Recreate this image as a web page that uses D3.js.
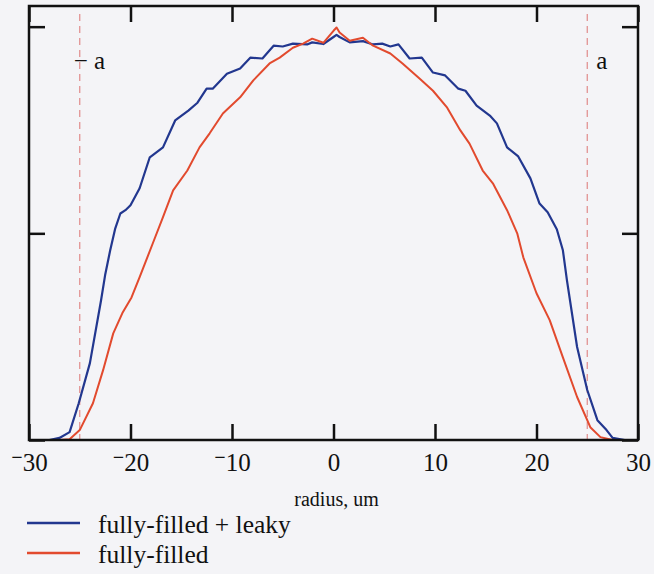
<!DOCTYPE html>
<html><head><meta charset="utf-8">
<script src="https://cdn.jsdelivr.net/npm/d3@7"></script>
<style>
html,body{margin:0;padding:0;background:#f4f4f7;}
svg{display:block;font-family:"Liberation Serif","DejaVu Serif",serif;}
</style></head><body>
<svg id="chart" width="654" height="574"></svg>
<script>
// ---- data ----
const xTicks = [-30, -20, -10, 0, 10, 20, 30];
const yTicks = [0, 0.5, 1.0];
const apertureMarks = [-25, 25];
const apertureLabels = ["\u2212 a", "a"];
const seriesNames = ["fully-filled + leaky", "fully-filled"];

const blueR = [-30,-28,-27.0,-26.0,-25.1,-24.0,-22.9,-22.5,-22.0,-21.5,-21.0,-20.5,-20.0,-19.1,-18.1,-16.8,-15.6,-14.3,-13.4,-12.5,-11.9,-10.5,-9.2,-8.2,-7.0,-5.9,-5.0,-4.0,-2.6,-2.1,-1.0,0.0,0.3,0.6,1.6,2.9,3.9,4.8,5.6,6.4,7.5,8.7,9.8,11.0,12.3,13.0,14.1,15.4,16.1,17.1,18.2,19.4,20.3,21.1,22.0,22.6,23.0,24.0,25.0,26.0,26.9,27.5,28.7,30];
const blueV = [0,0,0.005,0.019,0.089,0.186,0.338,0.399,0.459,0.512,0.548,0.556,0.568,0.609,0.684,0.708,0.773,0.797,0.816,0.850,0.850,0.886,0.899,0.925,0.923,0.954,0.952,0.959,0.957,0.962,0.958,0.975,0.980,0.975,0.962,0.965,0.957,0.959,0.952,0.957,0.923,0.925,0.889,0.882,0.850,0.845,0.809,0.785,0.766,0.708,0.686,0.633,0.572,0.551,0.510,0.459,0.386,0.225,0.121,0.048,0.024,0.005,0,0];

const redR = [-30,-27,-26,-25.0,-23.7,-22.7,-21.7,-20.8,-19.9,-19.1,-17.8,-16.8,-15.8,-14.4,-13.2,-12.2,-10.9,-9.2,-7.9,-6.3,-5.3,-4.0,-3.0,-2.1,-1.0,0.0,0.3,0.6,1.6,2.9,3.9,5.6,6.8,8.5,9.8,11.2,12.5,13.4,14.7,15.7,17.1,18.1,18.7,20.0,21.3,22.6,24.0,25.3,26.3,27.5,30];
const redV = [0,0,0.002,0.024,0.089,0.169,0.258,0.307,0.345,0.394,0.476,0.539,0.604,0.652,0.708,0.742,0.790,0.829,0.870,0.911,0.925,0.949,0.959,0.971,0.961,0.990,0.998,0.986,0.966,0.973,0.954,0.935,0.911,0.874,0.845,0.804,0.749,0.717,0.652,0.621,0.556,0.500,0.442,0.355,0.290,0.200,0.104,0.031,0.007,0,0];

const blueColor = "#22378f";
const redColor = "#e24a2e";

// ---- drawing ----
const svg = d3.select("#chart");
const L = 29, R = 638, T = 6, B = 440;
const x = d3.scaleLinear().domain([-30, 30]).range([L, R]);
const y = d3.scaleLinear().domain([0, 1.05]).range([B, T]);

// dashed aperture lines
svg.selectAll("line.ap").data(apertureMarks).enter().append("line")
  .attr("x1", d => x(d)).attr("x2", d => x(d))
  .attr("y1", T + 8).attr("y2", B)
  .attr("stroke", "#e08a8a").attr("stroke-width", 1.2)
  .attr("stroke-dasharray", "7,5");

svg.selectAll("text.ap").data(apertureMarks).enter().append("text")
  .attr("x", (d, i) => i === 0 ? x(d) - 6 : x(d) + 9)
  .attr("y", 69)
  .attr("font-size", 25).attr("fill", "#111")
  .text((d, i) => apertureLabels[i]);

const line = d3.line().x(d => x(d[0])).y(d => y(d[1]));
const blue = blueR.map((r, i) => [r, blueV[i]]);
const red = redR.map((r, i) => [r, redV[i]]);

svg.append("path").datum(blue).attr("d", line)
  .attr("fill", "none").attr("stroke", blueColor).attr("stroke-width", 2.2)
  .attr("stroke-linejoin", "round");
svg.append("path").datum(red).attr("d", line)
  .attr("fill", "none").attr("stroke", redColor).attr("stroke-width", 2)
  .attr("stroke-linejoin", "round");

// frame
svg.append("rect").attr("x", L).attr("y", T).attr("width", R - L).attr("height", B - T)
  .attr("fill", "none").attr("stroke", "#111").attr("stroke-width", 2.5);

// axes with inward ticks
const tickLen = 16;
const gB = svg.append("g").attr("transform", `translate(0,${B})`)
  .call(d3.axisBottom(x).tickValues(xTicks).tickSize(-tickLen).tickFormat(""));
const gT = svg.append("g").attr("transform", `translate(0,${T})`)
  .call(d3.axisTop(x).tickValues(xTicks).tickSize(-tickLen).tickFormat(""));
const gL = svg.append("g").attr("transform", `translate(${L},0)`)
  .call(d3.axisLeft(y).tickValues(yTicks).tickSize(-tickLen).tickFormat(""));
const gR = svg.append("g").attr("transform", `translate(${R},0)`)
  .call(d3.axisRight(y).tickValues(yTicks).tickSize(-tickLen).tickFormat(""));
[gB, gT, gL, gR].forEach(g => {
  g.select(".domain").remove();
  g.selectAll(".tick line").attr("stroke", "#111").attr("stroke-width", 2.5);
});

// tick labels with raised minus sign
gB.selectAll(".tick").each(function(d) {
  const t = d3.select(this).append("text")
    .attr("y", 31).attr("text-anchor", "middle")
    .attr("font-size", 25).attr("fill", "#111")
    .attr("font-family", "Liberation Serif, serif");
  if (d < 0) {
    t.append("tspan").attr("dy", -7).attr("font-size", 20).attr("font-weight", "bold").text("\u2212");
    t.append("tspan").attr("dy", 7).text(Math.abs(d));
  } else {
    t.text(d);
  }
});

// axis title
svg.append("text").attr("x", x(0) + 3).attr("y", 506).attr("text-anchor", "middle")
  .attr("font-size", 20).attr("fill", "#111").text("radius, um");

// legend
const legY = [523, 553];
const colors = [blueColor, redColor];
seriesNames.forEach((name, i) => {
  svg.append("line").attr("x1", 27).attr("x2", 80).attr("y1", legY[i]).attr("y2", legY[i])
    .attr("stroke", colors[i]).attr("stroke-width", 2.4);
  svg.append("text").attr("x", 98).attr("y", legY[i] + 10)
    .attr("font-size", 25.5).attr("fill", "#111").text(name);
});
</script>
</body></html>
